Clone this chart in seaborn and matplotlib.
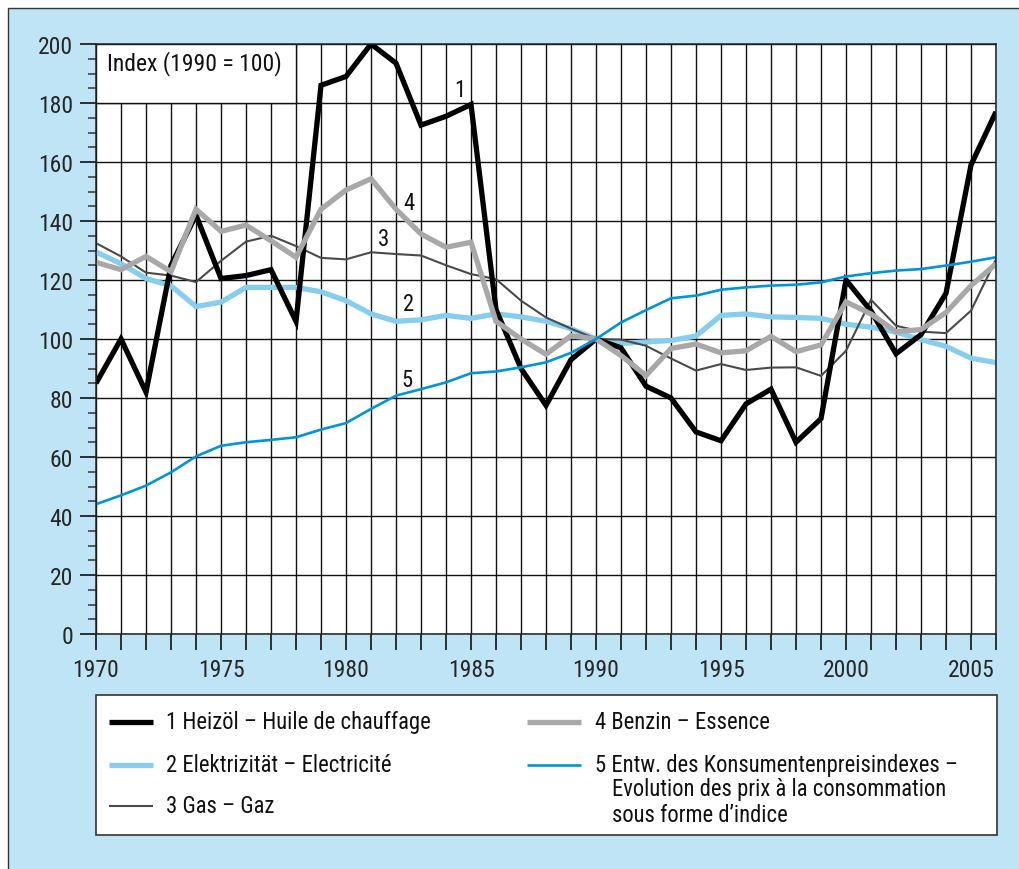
import matplotlib
matplotlib.use('Agg')
import matplotlib.pyplot as plt
import pandas as pd
import seaborn as sns
from matplotlib import font_manager
from matplotlib.lines import Line2D
from matplotlib.patches import Rectangle
from matplotlib.ticker import MultipleLocator

# Data (Index 1990 = 100)
years = list(range(1970, 2007))
heizoel = [85, 100, 82, 125, 142, 120.5, 121.5, 123.5, 106, 186,
           189, 200, 193.5, 172.5, 175.5, 179.5, 110, 90, 77.5, 93,
           100, 97, 84, 80, 68.5, 65.5, 78, 83, 65, 73,
           120, 109.5, 95, 101.5, 115.5, 159, 177]
strom = [129.5, 125.5, 120.5, 118, 111, 112.5, 117.5, 117.5, 117.5, 116,
         113, 108.5, 106, 106.5, 108, 107, 108.5, 107.5, 106, 103.5,
         100, 98.5, 99, 99.5, 101, 108, 108.5, 107.5, 107.3, 107,
         105, 104, 102.3, 99.8, 97.5, 93.5, 92]
gas = [132.5, 128, 122.5, 121.5, 119.3, 126.5, 133, 135, 131.5, 127.5,
       127, 129.4, 128.8, 128.3, 125, 122, 120.3, 113, 107.3, 103.5,
       100, 99.8, 97.7, 93.4, 89.3, 91.5, 89.5, 90.3, 90.4, 87.5,
       96, 113.3, 104.5, 102.5, 102, 109.6, 127]
benzin = [126, 123.5, 128, 122.8, 144, 136.5, 138.6, 133.3, 127.7, 144,
          150.5, 154.3, 144, 135.6, 131.1, 132.8, 106, 100, 94.8, 101.1,
          100, 94.4, 87.6, 96.8, 98.3, 95.3, 96, 100.9, 95.7, 98,
          112.6, 108.5, 102.5, 103.2, 109, 118.1, 125.5]
lik = [44, 47, 50.3, 54.8, 60.2, 63.8, 65, 65.8, 66.7, 69.3,
       71.5, 76.3, 80.8, 83, 85.3, 88.4, 89, 90.4, 92.1, 95.3,
       100, 105.6, 109.8, 113.8, 114.7, 116.7, 117.5, 118.1, 118.4, 119.2,
       121.2, 122.3, 123.2, 123.7, 124.9, 126.2, 127.7]

series_names = ['1', '2', '3', '4', '5']
legend_labels = ['1 Heizöl – Huile de chauffage', '2 Elektrizität – Electricité',
                 '3 Gas – Gaz', '4 Benzin – Essence',
                 '5 Entw. des Konsumentenpreisindexes –']
legend_extra = ['Evolution des prix à la consommation', 'sous forme d’indice']

colors = {'1': '#000000', '2': '#87cdee', '3': '#4a4a4a', '4': '#a8a8a8', '5': '#0095da'}
widths = {'1': 3.8, '2': 3.8, '3': 1.5, '4': 3.8, '5': 1.9}
draw_order = ['2', '3', '1', '4', '5']

df = pd.DataFrame({
    'year': years * 5,
    'value': heizoel + strom + gas + benzin + lik,
    'series': [s for s in series_names for _ in years],
})

# Fonts
sns.set_theme(style='white')
installed = {f.name for f in font_manager.fontManager.ttflist}
font = 'DejaVu Sans'
for fam in ['Liberation Sans Narrow', 'Roboto Condensed', 'Open Sans Condensed', 'Roboto']:
    if fam in installed:
        font = fam
        break
plt.rcParams['font.family'] = [font, 'DejaVu Sans']

W, H = 1020, 870
BG = '#bee4f5'
TXT = 16.3


def fx(px):
    return px / W


def fy(py):
    return 1 - py / H


fig = plt.figure(figsize=(W / 100, H / 100), dpi=100)
fig.patch.set_facecolor('white')
fig.add_artist(Rectangle((fx(8), -0.01), 1.1, fy(9) + 0.01, transform=fig.transFigure,
                         facecolor=BG, edgecolor='#333333', lw=1.0, zorder=0))

ax = fig.add_axes([fx(96), fy(635), fx(996) - fx(96), fy(45) - fy(635)])
ax.set_facecolor('white')

sns.lineplot(data=df, x='year', y='value', hue='series', hue_order=draw_order,
             size='series', size_order=draw_order, sizes=widths, palette=colors,
             legend=False, ax=ax)
for ln in ax.lines:
    ln.set_solid_joinstyle('miter')
    ln.set_solid_capstyle('butt')

ax.set_xlim(1970, 2006)
ax.set_ylim(0, 200)
ax.set_xlabel('')
ax.set_ylabel('')

ax.set_xticks(years)
ax.set_xticklabels([str(y) if y % 5 == 0 else '' for y in years])
ax.yaxis.set_major_locator(MultipleLocator(20))
ax.yaxis.set_minor_locator(MultipleLocator(5))
ax.tick_params(axis='x', which='major', direction='out', length=11.5, width=1.1,
               color='black', labelsize=17, pad=6, bottom=True)
ax.tick_params(axis='y', which='major', direction='out', length=11.5, width=1.1,
               color='black', labelsize=17, pad=5, left=True)
ax.tick_params(axis='y', which='minor', direction='out', length=5.8, width=1.1,
               color='#333333', left=True)
ax.grid(True, which='major', color='#111111', lw=1.0)
ax.set_axisbelow(True)
for sp in ax.spines.values():
    sp.set_color('#222222')
    sp.set_linewidth(1.1)

# white caption box in the top-left corner
ax.add_patch(Rectangle((1970, 180), 8, 20, facecolor='white', edgecolor='#111111',
                       lw=1.0, zorder=1))
ax.text(1970.45, 193.8, 'Index (1990 = 100)', fontsize=17, ha='left', va='center',
        color='#111111', zorder=7)

# series numbers next to the lines
for lab, x, y in [('1', 1984.55, 184.7), ('4', 1982.5, 146.4), ('3', 1981.5, 134),
                  ('2', 1982.5, 112), ('5', 1982.45, 86.4)]:
    ax.text(x, y, lab, fontsize=TXT, ha='center', va='center', color='#111111', zorder=7)

# legend box
fig.add_artist(Rectangle((fx(96), fy(836)), fx(997) - fx(96), fy(696) - fy(836),
                         transform=fig.transFigure, facecolor='white',
                         edgecolor='#333333', lw=1.2, zorder=1))
rows = [723, 766, 807]
slots = [(109, 153, 166, rows[0]), (109, 153, 166, rows[1]), (109, 153, 166, rows[2]),
         (527, 581, 595, rows[0]), (527, 581, 595, rows[1])]
for name, label, (x0, x1, tx, ry) in zip(series_names, legend_labels, slots):
    fig.add_artist(Line2D([fx(x0), fx(x1)], [fy(ry), fy(ry)], transform=fig.transFigure,
                          color=colors[name], lw=widths[name], solid_capstyle='butt',
                          zorder=2))
    fig.text(fx(tx), fy(ry), label, fontsize=TXT, ha='left', va='center', color='#111111')
for txt, ry in zip(legend_extra, [790, 816]):
    fig.text(fx(612), fy(ry), txt, fontsize=TXT, ha='left', va='center', color='#111111')

fig.savefig('out.png', dpi=100)
